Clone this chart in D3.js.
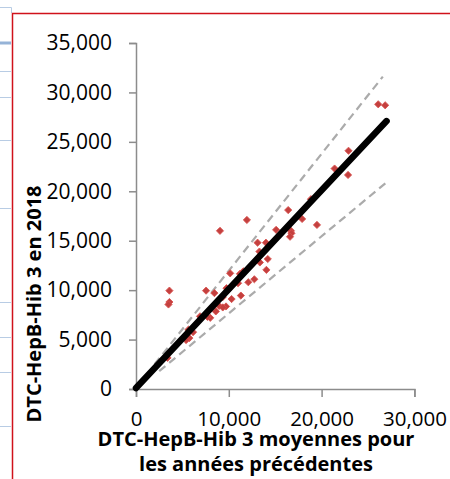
<!DOCTYPE html>
<html>
<head>
<meta charset="utf-8">
<script src="https://cdn.jsdelivr.net/npm/d3@7"></script>
<style>
  body { margin: 0; background: #fff; }
  svg { display: block; font-family: "Open Sans", sans-serif; }
</style>
</head>
<body>
<div id="vis"></div>
<script>
// values
const X_AVG = [26100, 26850, 22900, 21400, 22850, 18850, 16400, 17900, 19500, 11950,
               9050, 15100, 16700, 16750, 16600, 13100, 14000, 13300, 14200, 13350,
               14050, 10150, 11200, 11550, 11000, 12100, 12750, 9950, 11300, 10300,
               9350, 8950, 9700, 9350, 8600, 8000, 6900, 7700, 7550, 8450,
               3600, 3600, 3500, 5650, 6150, 5750, 5400, 3400, 9750];
const Y_2018 = [28800, 28700, 24100, 22300, 21650, 19200, 18100, 17200, 16600, 17100,
                16000, 16100, 16000, 15750, 15400, 14800, 14800, 13900, 13150, 12800,
                12050, 11700, 11650, 11900, 10700, 10800, 11100, 10050, 9450, 9100,
                9300, 8400, 8350, 8250, 7850, 7200, 7350, 7300, 9950, 9700,
                9950, 8800, 8550, 6000, 5750, 5150, 4950, 3150, 10200];

const FIT_X = [0, 27000];
const FIT_Y = [100, 27100];
const UPPER_X = [2000, 26600];
const UPPER_Y = [2500, 31600];
const LOWER_X = [2500, 27050];
const LOWER_Y = [1800, 20950];

const X_TICKS = [0, 10000, 20000, 30000];
const Y_TICKS = [0, 5000, 10000, 15000, 20000, 25000, 30000, 35000];

const Y_TITLE = "DTC-HepB-Hib 3 en 2018";
const X_TITLE = ["DTC-HepB-Hib 3 moyennes pour", "les années précédentes"];

const FRAME_WIDTH = 450;
const FRAME_HEIGHT = 479;

const svg = d3.select("#vis")
  .append("svg")
    .attr("width", FRAME_WIDTH)
    .attr("height", FRAME_HEIGHT);

// bits of the table that sits behind the chart on the left
const bg = svg.append("g");
bg.append("path")
  .attr("d", "M0,7.5H11.5V13")
  .attr("fill", "none").attr("stroke", "#b8cce4").attr("stroke-width", 1);
[71, 97, 140, 208, 302, 337, 372, 426].forEach((y) => {
  bg.append("line").attr("x1", 0).attr("x2", 11).attr("y1", y + 0.5).attr("y2", y + 0.5)
    .attr("stroke", "#b8cce4").attr("stroke-width", 1);
});
bg.append("line").attr("x1", 0).attr("x2", 11).attr("y1", 43).attr("y2", 43)
  .attr("stroke", "#95b3d7").attr("stroke-width", 3);

// red frame of the chart
svg.append("path")
  .attr("d", "M12.5,479V13.5H450")
  .attr("fill", "none")
  .attr("stroke", "#d0121b")
  .attr("stroke-width", 1.5);

const X_SCALE = d3.scaleLinear().domain([0, 30000]).range([136, 414.4]);
const Y_SCALE = d3.scaleLinear().domain([0, 35000]).range([389, 43]);
const fmt = d3.format(",");

// axes
const xAxis = svg.append("g")
  .attr("transform", "translate(0,389)")
  .call(d3.axisBottom(X_SCALE).tickValues(X_TICKS).tickFormat(fmt).tickSize(8).tickPadding(6));
const yAxis = svg.append("g")
  .attr("transform", "translate(136,0)")
  .call(d3.axisLeft(Y_SCALE).tickValues(Y_TICKS).tickFormat(fmt).tickSize(7).tickPadding(17));

[xAxis, yAxis].forEach((g) => {
  g.select(".domain").attr("stroke", "#8c8c8c").attr("stroke-width", 1.5);
  g.selectAll(".tick line").attr("stroke", "#8c8c8c").attr("stroke-width", 1.5);
  g.selectAll(".tick text")
    .attr("font-family", "Open Sans, sans-serif")
    .attr("font-size", 21)
    .attr("fill", "#000");
});
xAxis.selectAll(".tick text").attr("dy", null).attr("y", 37).attr("font-size", 20.5);

// dashed bounds
const line = d3.line().x((d) => X_SCALE(d[0])).y((d) => Y_SCALE(d[1]));
[[UPPER_X, UPPER_Y], [LOWER_X, LOWER_Y]].forEach(([xs, ys]) => {
  svg.append("path")
    .datum(d3.zip(xs, ys))
    .attr("d", line)
    .attr("fill", "none")
    .attr("stroke", "#ababab")
    .attr("stroke-width", 2.2)
    .attr("stroke-dasharray", "8,5");
});

// points
const pts = d3.zip(X_AVG, Y_2018);
svg.selectAll("path.pt")
  .data(pts)
  .enter()
  .append("path")
    .attr("class", "pt")
    .attr("d", d3.symbol(d3.symbolSquare, 26))
    .attr("transform", (d) => "translate(" + X_SCALE(d[0]) + "," + Y_SCALE(d[1]) + ") rotate(45)")
    .attr("fill", "#c4403f")
    .attr("stroke", "#d9534f")
    .attr("stroke-width", 0.8);

// fit line
svg.append("path")
  .datum(d3.zip(FIT_X, FIT_Y))
  .attr("d", line)
  .attr("fill", "none")
  .attr("stroke", "#000")
  .attr("stroke-width", 6.5)
  .attr("stroke-linecap", "round");

// axis titles
svg.append("text")
  .attr("transform", "translate(41,304) rotate(-90)")
  .attr("text-anchor", "middle")
  .attr("font-family", "Open Sans, sans-serif")
  .attr("font-weight", "bold")
  .attr("font-size", 20)
  .text(Y_TITLE);

svg.selectAll("text.xtitle")
  .data(X_TITLE)
  .enter()
  .append("text")
    .attr("class", "xtitle")
    .attr("x", 256)
    .attr("y", (d, i) => 446 + i * 25)
    .attr("text-anchor", "middle")
    .attr("font-family", "Open Sans, sans-serif")
    .attr("font-weight", "bold")
    .attr("font-size", 20)
    .text((d) => d);
</script>
</body>
</html>
